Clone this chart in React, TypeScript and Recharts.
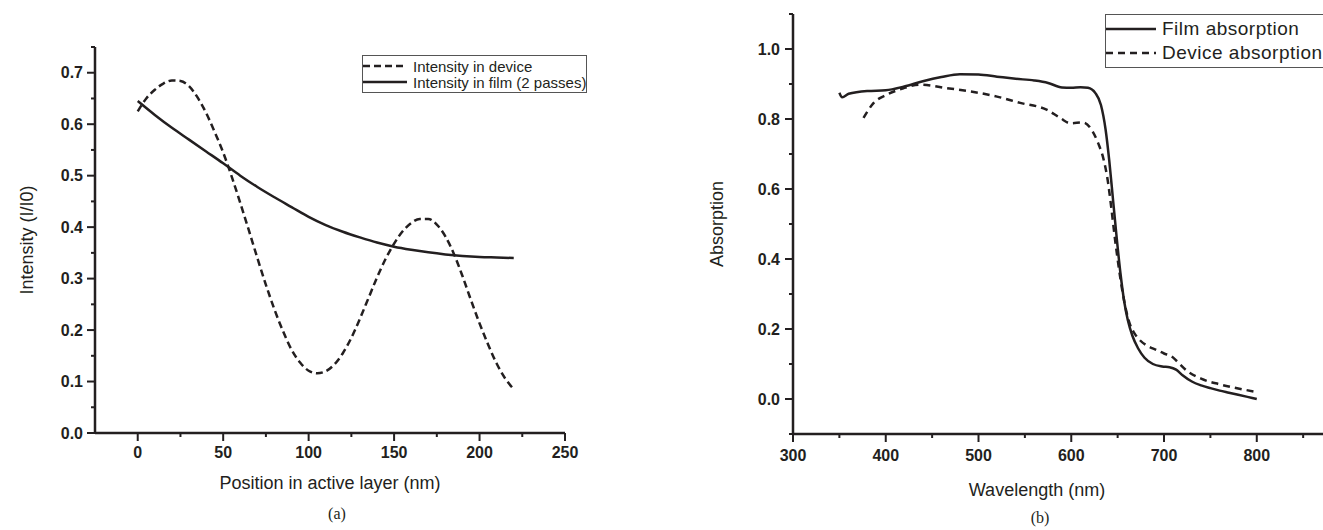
import { Legend, Line, LineChart, XAxis, YAxis } from "recharts";

// (a) optical intensity vs position in the active layer
const positionNm = [
  0, 5, 10, 15, 20, 25, 30, 35, 40, 45, 50, 55, 60, 65, 70, 75, 80, 85, 90, 95, 100, 105, 110,
  115, 120, 125, 130, 135, 140, 145, 150, 155, 160, 165, 170, 175, 180, 185, 190, 195, 200, 205,
  210, 215, 220
];
const deviceIntensity = [
  0.625, 0.65, 0.667, 0.679, 0.685, 0.684, 0.674, 0.652, 0.622, 0.585, 0.545, 0.498, 0.447,
  0.394, 0.34, 0.288, 0.24, 0.198, 0.162, 0.137, 0.121, 0.116, 0.12, 0.133, 0.155, 0.185, 0.222,
  0.262, 0.302, 0.338, 0.368, 0.392, 0.408, 0.416, 0.416, 0.405, 0.382, 0.348, 0.305, 0.258,
  0.213, 0.172, 0.135, 0.106, 0.085
];
const filmPositionNm = [0, 10, 20, 30, 40, 50, 60, 70, 80, 90, 100, 110, 120, 130, 140, 150, 160, 170, 180, 190, 200, 210, 220];
const filmIntensity = [
  0.645, 0.618, 0.593, 0.57, 0.547, 0.524, 0.5, 0.478, 0.458, 0.439, 0.42, 0.404, 0.391, 0.38,
  0.37, 0.362, 0.356, 0.351, 0.347, 0.344, 0.342, 0.341, 0.34
];
const positionTicks = [0, 25, 50, 75, 100, 125, 150, 175, 200, 225, 250];
const intensityTicks = [0, 0.05, 0.1, 0.15, 0.2, 0.25, 0.3, 0.35, 0.4, 0.45, 0.5, 0.55, 0.6, 0.65, 0.7, 0.75];

// (b) absorption spectra
const filmWavelength = [
  350, 353, 360, 380, 400, 420, 440, 460, 480, 500, 520, 540, 560, 575, 590, 600, 610, 618, 626,
  632, 637, 641, 645, 649, 653, 657, 661, 666, 672, 679, 688, 698, 706, 713, 720, 730, 740, 750,
  760, 770, 780, 790, 800
];
const filmAbsorption = [
  0.875, 0.862, 0.872, 0.88, 0.882, 0.893, 0.908, 0.92, 0.928, 0.927, 0.921, 0.915, 0.91, 0.903,
  0.89, 0.889, 0.891, 0.889, 0.874, 0.84, 0.77, 0.68, 0.57, 0.46, 0.36, 0.28, 0.225, 0.18, 0.145,
  0.118, 0.1, 0.093, 0.091, 0.084, 0.068, 0.05, 0.039, 0.031, 0.024, 0.018, 0.012, 0.006, 0
];
const deviceWavelength = [
  376, 387, 401, 419, 437, 466, 491, 520, 545, 574, 588, 599, 613, 622, 629, 635, 639, 643, 647,
  651, 655, 659, 663, 668, 674, 682, 692, 700, 708, 715, 725, 740, 760, 780, 800
];
const deviceAbsorption = [
  0.803, 0.846, 0.869, 0.888, 0.898, 0.888, 0.879, 0.864, 0.846, 0.826, 0.803, 0.788, 0.79, 0.769,
  0.731, 0.683, 0.63, 0.55, 0.46, 0.38, 0.31, 0.255, 0.215, 0.188, 0.168, 0.152, 0.14, 0.13, 0.122,
  0.105, 0.08, 0.058, 0.042, 0.03, 0.02
];
const wavelengthTicks = [300, 350, 400, 450, 500, 550, 600, 650, 700, 750, 800, 850];
const absorptionTicks = [-0.1, 0, 0.1, 0.2, 0.3, 0.4, 0.5, 0.6, 0.7, 0.8, 0.9, 1.0, 1.1];

const INK = "#231f20";
const SANS = "'Liberation Sans', Arial, sans-serif";

const pairs = (xs: number[], ys: number[]) => xs.map((x, i) => ({ x, y: ys[i] }));

const isMultiple = (v: number, step: number) => Math.abs(v / step - Math.round(v / step)) < 1e-6;

function renderTick(
  props: any,
  opts: { side: "bottom" | "left"; step: number; digits: number; gap: number }
) {
  const { x, y, payload } = props;
  const v = payload.value as number;
  const major = isMultiple(v, opts.step);
  const len = major ? 8 : 4;
  const label = opts.digits ? v.toFixed(opts.digits) : String(v);
  if (opts.side === "bottom") {
    return (
      <g>
        <line x1={x} y1={y} x2={x} y2={y + len} stroke={INK} strokeWidth={2} />
        {major ? (
          <text x={x} y={y + opts.gap} textAnchor="middle" dominantBaseline="central"
            fontFamily={SANS} fontWeight="bold" fontSize={16} fill={INK}>
            {label}
          </text>
        ) : null}
      </g>
    );
  }
  return (
    <g>
      <line x1={x} y1={y} x2={x - len} y2={y} stroke={INK} strokeWidth={2} />
      {major ? (
        <text x={x - opts.gap} y={y} textAnchor="end" dominantBaseline="central"
          fontFamily={SANS} fontWeight="bold" fontSize={16} fill={INK}>
          {label}
        </text>
      ) : null}
    </g>
  );
}

function xTitle(text: string, dy: number, dx = 0) {
  return (props: any) => {
    const vb = props.viewBox || {};
    return (
      <text x={vb.x + vb.width / 2 + dx} y={vb.y + dy} textAnchor="middle" dominantBaseline="central"
        fontFamily={SANS} fontSize={18} fill={INK}>
        {text}
      </text>
    );
  };
}

function yTitle(text: string, cx: number) {
  return (props: any) => {
    const vb = props.viewBox || {};
    const cy = vb.y + vb.height / 2;
    return (
      <text x={cx} y={cy} transform={`rotate(-90 ${cx} ${cy})`} textAnchor="middle"
        dominantBaseline="central" fontFamily={SANS} fontSize={18} fill={INK}>
        {text}
      </text>
    );
  };
}

interface LegendItem {
  label: string;
  dash?: string;
}

function LegendBox({ items, sample, rowHeight, fontSize, spacing = 0 }: {
  items: LegendItem[]; sample: number; rowHeight: number; fontSize: number; spacing?: number;
}) {
  return (
    <div style={{ border: "1px solid #555", background: "#fff", padding: "2px 0", fontFamily: SANS,
      fontSize, letterSpacing: spacing, color: INK, whiteSpace: "nowrap" }}>
      {items.map((item) => (
        <div key={item.label} style={{ display: "flex", alignItems: "center", height: rowHeight }}>
          <svg width={sample} height={6} style={{ marginRight: 6 }}>
            <line x1={0} y1={3} x2={sample} y2={3} stroke={INK} strokeWidth={2.5}
              strokeDasharray={item.dash} />
          </svg>
          <span>{item.label}</span>
        </div>
      ))}
    </div>
  );
}

const intensityLegend: LegendItem[] = [
  { label: "Intensity in device", dash: "7 4" },
  { label: "Intensity in film (2 passes)" }
];
const absorptionLegend: LegendItem[] = [
  { label: "Film absorption" },
  { label: "Device absorption", dash: "7 5" }
];

export default function App() {
  return (
    <div style={{ position: "absolute", left: 0, top: 0, width: 1323, height: 530, background: "#fff", overflow: "hidden" }}>
      <div style={{ position: "absolute", left: 0, top: 0 }}>
        <LineChart width={600} height={530} margin={{ top: 47, right: 35, bottom: 57, left: 35 }}>
          <XAxis
            type="number"
            dataKey="x"
            domain={[-25, 250]}
            ticks={positionTicks}
            interval={0}
            height={40}
            tickSize={0}
            tickMargin={0}
            tickLine={false}
            axisLine={{ stroke: INK, strokeWidth: 2.5 }}
            tick={(p: any) => renderTick(p, { side: "bottom", step: 50, digits: 0, gap: 19 })}
            label={xTitle("Position in active layer (nm)", 50)}
          />
          <YAxis
            type="number"
            domain={[0, 0.75]}
            ticks={intensityTicks}
            interval={0}
            width={60}
            tickSize={0}
            tickMargin={0}
            tickLine={false}
            axisLine={{ stroke: INK, strokeWidth: 2.5 }}
            tick={(p: any) => renderTick(p, { side: "left", step: 0.1, digits: 1, gap: 12 })}
            label={yTitle("Intensity (I/I0)", 27)}
          />
          <Legend
            layout="horizontal"
            verticalAlign="middle"
            align="center"
            wrapperStyle={{ left: 362, top: 55, width: "auto" }}
            content={() => <LegendBox items={intensityLegend} sample={44} rowHeight={16} fontSize={15} />}
          />
          <Line data={pairs(positionNm, deviceIntensity)} dataKey="y" name="Intensity in device"
            type="monotone" stroke={INK} strokeWidth={2.5} strokeDasharray="7 4" dot={false}
            isAnimationActive={false} />
          <Line data={pairs(filmPositionNm, filmIntensity)} dataKey="y" name="Intensity in film (2 passes)"
            type="monotone" stroke={INK} strokeWidth={2.5} dot={false} isAnimationActive={false} />
        </LineChart>
      </div>

      <div style={{ position: "absolute", left: 660, top: 0 }}>
        <LineChart width={663} height={530} margin={{ top: 14, right: 0, bottom: 56, left: 73 }}>
          <XAxis
            type="number"
            dataKey="x"
            domain={[300, 871.4]}
            ticks={wavelengthTicks}
            interval={0}
            height={40}
            tickSize={0}
            tickMargin={0}
            tickLine={false}
            axisLine={{ stroke: INK, strokeWidth: 2.5 }}
            tick={(p: any) => renderTick(p, { side: "bottom", step: 100, digits: 0, gap: 21 })}
            label={xTitle("Wavelength (nm)", 56, -21)}
          />
          <YAxis
            type="number"
            domain={[-0.1, 1.1]}
            ticks={absorptionTicks}
            interval={0}
            width={60}
            tickSize={0}
            tickMargin={0}
            tickLine={false}
            axisLine={{ stroke: INK, strokeWidth: 2.5 }}
            tick={(p: any) => renderTick(p, { side: "left", step: 0.2, digits: 1, gap: 13 })}
            label={yTitle("Absorption", 57)}
          />
          <Legend
            layout="horizontal"
            verticalAlign="middle"
            align="center"
            wrapperStyle={{ left: 445, top: 14, width: "auto" }}
            content={() => <LegendBox items={absorptionLegend} sample={50} rowHeight={24} fontSize={19} spacing={0.5} />}
          />
          <Line data={pairs(filmWavelength, filmAbsorption)} dataKey="y" name="Film absorption"
            type="monotone" stroke={INK} strokeWidth={2.5} dot={false} isAnimationActive={false} />
          <Line data={pairs(deviceWavelength, deviceAbsorption)} dataKey="y" name="Device absorption"
            type="monotone" stroke={INK} strokeWidth={2.5} strokeDasharray="7 5" dot={false}
            isAnimationActive={false} />
        </LineChart>
      </div>

      <div style={{ position: "absolute", left: 317, top: 505, width: 40, textAlign: "center",
        fontFamily: "'Liberation Serif', serif", fontSize: 16, color: INK }}>(a)</div>
      <div style={{ position: "absolute", left: 1020, top: 509, width: 40, textAlign: "center",
        fontFamily: "'Liberation Serif', serif", fontSize: 16, color: INK }}>(b)</div>
    </div>
  );
}
